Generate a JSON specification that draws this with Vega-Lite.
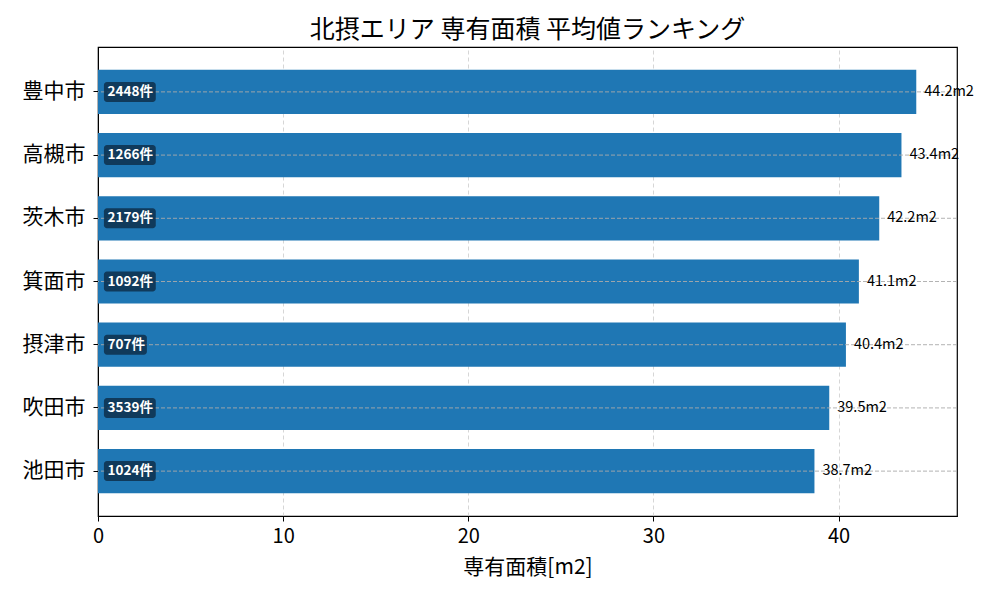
{
  "$schema": "https://vega.github.io/schema/vega-lite/v6.json",
  "width": 859,
  "height": 469,
  "autosize": {"type": "none"},
  "padding": {"left": 98, "top": 47, "right": 43, "bottom": 84},
  "config": {
    "font": "Noto Sans CJK JP",
    "view": {"stroke": "black", "strokeWidth": 1.2}
  },
  "title": {
    "text": "北摂エリア 専有面積 平均値ランキング",
    "fontSize": 25,
    "fontWeight": "normal",
    "anchor": "middle",
    "offset": 4,
    "color": "black"
  },
  "data": {
    "values": [
      {"city": "豊中市", "area": 44.2, "count": 2448},
      {"city": "高槻市", "area": 43.4, "count": 1266},
      {"city": "茨木市", "area": 42.2, "count": 2179},
      {"city": "箕面市", "area": 41.1, "count": 1092},
      {"city": "摂津市", "area": 40.4, "count": 707},
      {"city": "吹田市", "area": 39.5, "count": 3539},
      {"city": "池田市", "area": 38.7, "count": 1024}
    ]
  },
  "transform": [
    {"calculate": "datum.count + '件'", "as": "countLabel"},
    {"calculate": "datum.area + 'm2'", "as": "areaLabel"},
    {"calculate": "1.2 + 0.48 * length(toString(datum.count))", "as": "boxEnd"}
  ],
  "layer": [
    {
      "mark": {"type": "bar", "color": "#1f77b4"},
      "encoding": {
        "y": {
          "field": "city",
          "type": "nominal",
          "sort": null,
          "scale": {"paddingInner": 0.3, "paddingOuter": 0.36},
          "axis": {
            "title": null,
            "labelFontSize": 21,
            "labelColor": "black",
            "labelPadding": 8,
            "tickSize": 5,
            "tickColor": "black",
            "domainColor": "black",
            "grid": false
          }
        },
        "x": {
          "field": "area",
          "type": "quantitative",
          "scale": {"domain": [0, 46.4], "nice": false, "zero": true},
          "axis": {
            "title": "専有面積[m2]",
            "titleFontSize": 21,
            "titleFontWeight": "normal",
            "titleColor": "black",
            "titlePadding": 10,
            "values": [0, 10, 20, 30, 40],
            "labelFontSize": 20,
            "labelFlush": false,
            "labelColor": "black",
            "labelPadding": 5,
            "tickSize": 5,
            "tickColor": "black",
            "domainColor": "black",
            "grid": true,
            "gridColor": "#cccccc",
            "gridDash": [4, 3],
            "gridWidth": 0.8
          }
        }
      }
    },
    {
      "mark": {"type": "rule", "color": "#aaaaaa", "strokeDash": [4, 2], "strokeWidth": 0.9},
      "encoding": {
        "y": {"field": "city", "type": "nominal", "sort": null}
      }
    },
    {
      "mark": {"type": "bar", "height": 20, "cornerRadius": 3, "color": "#0d2a45", "opacity": 0.8},
      "encoding": {
        "y": {"field": "city", "type": "nominal", "sort": null},
        "x": {"field": "boxEnd", "type": "quantitative"},
        "x2": {"datum": 0.32}
      }
    },
    {
      "mark": {"type": "text", "align": "left", "baseline": "middle", "dx": 4, "fontSize": 13.5, "fontWeight": "bold", "color": "white"},
      "encoding": {
        "y": {"field": "city", "type": "nominal", "sort": null},
        "x": {"datum": 0.3, "type": "quantitative"},
        "text": {"field": "countLabel", "type": "nominal"}
      }
    },
    {
      "mark": {"type": "text", "align": "left", "baseline": "middle", "dx": 8, "fontSize": 14.5, "color": "black"},
      "encoding": {
        "y": {"field": "city", "type": "nominal", "sort": null},
        "x": {"field": "area", "type": "quantitative"},
        "text": {"field": "areaLabel", "type": "nominal"}
      }
    }
  ]
}
